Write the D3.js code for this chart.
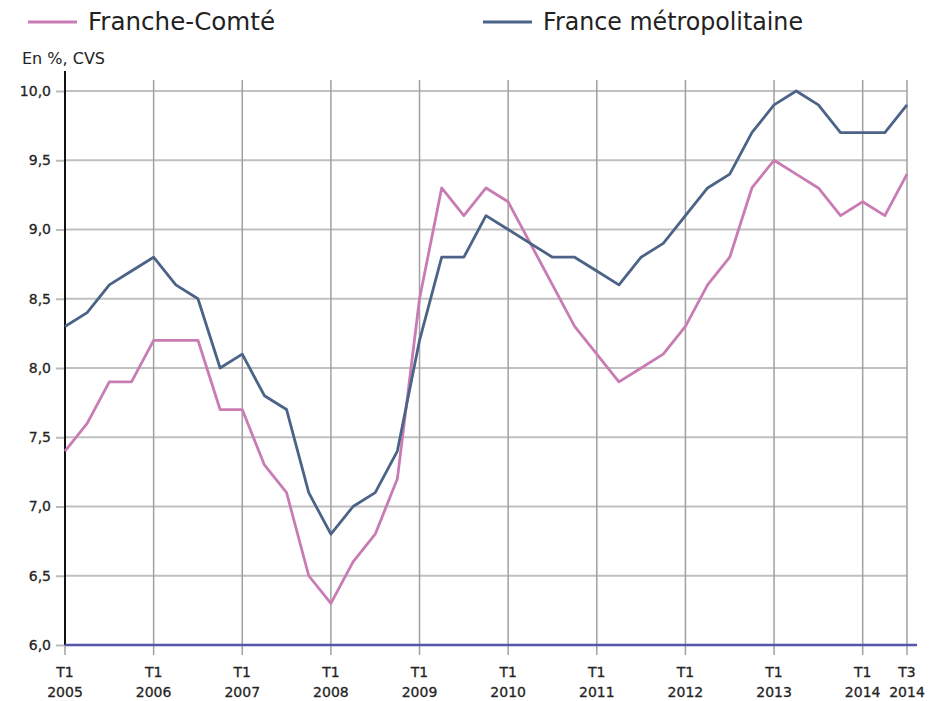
<!DOCTYPE html>
<html>
<head>
<meta charset="utf-8">
<script src="https://cdn.jsdelivr.net/npm/d3@7.9.0/dist/d3.min.js"></script>
<style>
  body { margin: 0; background: #fff; }
  svg { display: block; }
  text { font-family: "DejaVu Sans", Verdana, sans-serif; fill: #222; }
</style>
</head>
<body>
<div id="chart"></div>
<script>
// quarters T1 2005 .. T3 2014
const years = [2005, 2006, 2007, 2008, 2009, 2010, 2011, 2012, 2013, 2014];
const quarters = [];
years.forEach(y => [1, 2, 3, 4].forEach(q => { if (!(y === 2014 && q > 3)) quarters.push({ y, q }); }));

const franche = [
  7.4, 7.6, 7.9, 7.9,
  8.2, 8.2, 8.2, 7.7,
  7.7, 7.3, 7.1, 6.5,
  6.3, 6.6, 6.8, 7.2,
  8.5, 9.3, 9.1, 9.3,
  9.2, 8.9, 8.6, 8.3,
  8.1, 7.9, 8.0, 8.1,
  8.3, 8.6, 8.8, 9.3,
  9.5, 9.4, 9.3, 9.1,
  9.2, 9.1, 9.4
];
const france = [
  8.3, 8.4, 8.6, 8.7,
  8.8, 8.6, 8.5, 8.0,
  8.1, 7.8, 7.7, 7.1,
  6.8, 7.0, 7.1, 7.4,
  8.2, 8.8, 8.8, 9.1,
  9.0, 8.9, 8.8, 8.8,
  8.7, 8.6, 8.8, 8.9,
  9.1, 9.3, 9.4, 9.7,
  9.9, 10.0, 9.9, 9.7,
  9.7, 9.7, 9.9
];
const yTicks = [6, 6.5, 7, 7.5, 8, 8.5, 9, 9.5, 10];
// labelled quarters: every T1 plus the last one
const xTicks = quarters.map((d, i) => i).filter(i => quarters[i].q === 1 || i === quarters.length - 1);

const series = [
  { name: 'Franche-Comté', values: franche, color: '#c97cb4' },
  { name: 'France métropolitaine', values: france, color: '#4b6387' }
];

const width = 931, height = 701;
const svg = d3.select('#chart').append('svg')
  .attr('width', width).attr('height', height);

const x = d3.scaleLinear().domain([0, quarters.length - 1]).range([65, 907]);
const y = d3.scaleLinear().domain([6, 10]).range([645, 91]);

// y labels and small ticks
const yAxis = svg.append('g')
  .attr('transform', 'translate(65,0)')
  .call(d3.axisLeft(y).tickValues(yTicks)
    .tickFormat(d => d.toFixed(1).replace('.', ','))
    .tickSize(9).tickPadding(5))
  .call(g => g.select('.domain').remove());
yAxis.selectAll('.tick line').attr('stroke', '#bbb').attr('stroke-width', 2);
yAxis.selectAll('.tick text').style('font-size', '14px')
  .attr('fill', '#2a2a2a').attr('stroke', '#2a2a2a').attr('stroke-width', 0.3);

// horizontal gridlines
svg.append('g')
  .selectAll('line')
  .data(yTicks)
  .join('line')
  .attr('x1', 65).attr('x2', 907)
  .attr('y1', d => y(d)).attr('y2', d => y(d))
  .attr('stroke', '#c0c0c0').attr('stroke-width', 2);

// vertical gridlines with ticks below the axis
svg.append('g')
  .selectAll('line')
  .data(xTicks)
  .join('line')
  .attr('x1', d => x(d)).attr('x2', d => x(d))
  .attr('y1', 80).attr('y2', 655)
  .attr('stroke', '#a0a0a0').attr('stroke-width', 1.5);

// x labels (two lines)
const xl = svg.append('g')
  .selectAll('text')
  .data(xTicks)
  .join('text')
  .attr('x', d => x(d))
  .attr('text-anchor', 'middle')
  .style('font-size', '14px')
  .attr('fill', '#2a2a2a').attr('stroke', '#2a2a2a').attr('stroke-width', 0.3);
xl.append('tspan').attr('x', d => x(d)).attr('y', 677).text(d => 'T' + quarters[d].q);
xl.append('tspan').attr('x', d => x(d)).attr('y', 697).text(d => quarters[d].y);

// left axis line
svg.append('line')
  .attr('x1', 65).attr('x2', 65).attr('y1', 71).attr('y2', 645)
  .attr('stroke', '#111').attr('stroke-width', 2);

// bottom axis line
svg.append('line')
  .attr('x1', 65).attr('x2', 917).attr('y1', 645).attr('y2', 645)
  .attr('stroke', '#5556a8').attr('stroke-width', 2.5);

// series lines
const line = d3.line().x((d, i) => x(i)).y(d => y(d));
svg.append('g')
  .selectAll('path')
  .data(series)
  .join('path')
  .attr('d', d => line(d.values))
  .attr('fill', 'none')
  .attr('stroke', d => d.color)
  .attr('stroke-width', 2.8)
  .attr('stroke-linejoin', 'round');

// unit label
svg.append('text')
  .attr('x', 22).attr('y', 64)
  .style('font-size', '16px')
  .attr('fill', '#222')
  .text('En %, CVS');

// legend
const legendPos = [{ x: 28, tx: 88, w: 187 }, { x: 483, tx: 543, w: 260 }];
const leg = svg.append('g')
  .selectAll('g')
  .data(series)
  .join('g');
leg.append('line')
  .attr('x1', (d, i) => legendPos[i].x).attr('x2', (d, i) => legendPos[i].x + 49)
  .attr('y1', 22).attr('y2', 22)
  .attr('stroke', d => d.color).attr('stroke-width', 3);
leg.append('text')
  .attr('x', (d, i) => legendPos[i].tx).attr('y', 30)
  .attr('textLength', (d, i) => legendPos[i].w)
  .attr('lengthAdjust', 'spacingAndGlyphs')
  .style('font-size', '24px')
  .attr('fill', '#222')
  .text(d => d.name);
</script>
</body>
</html>
